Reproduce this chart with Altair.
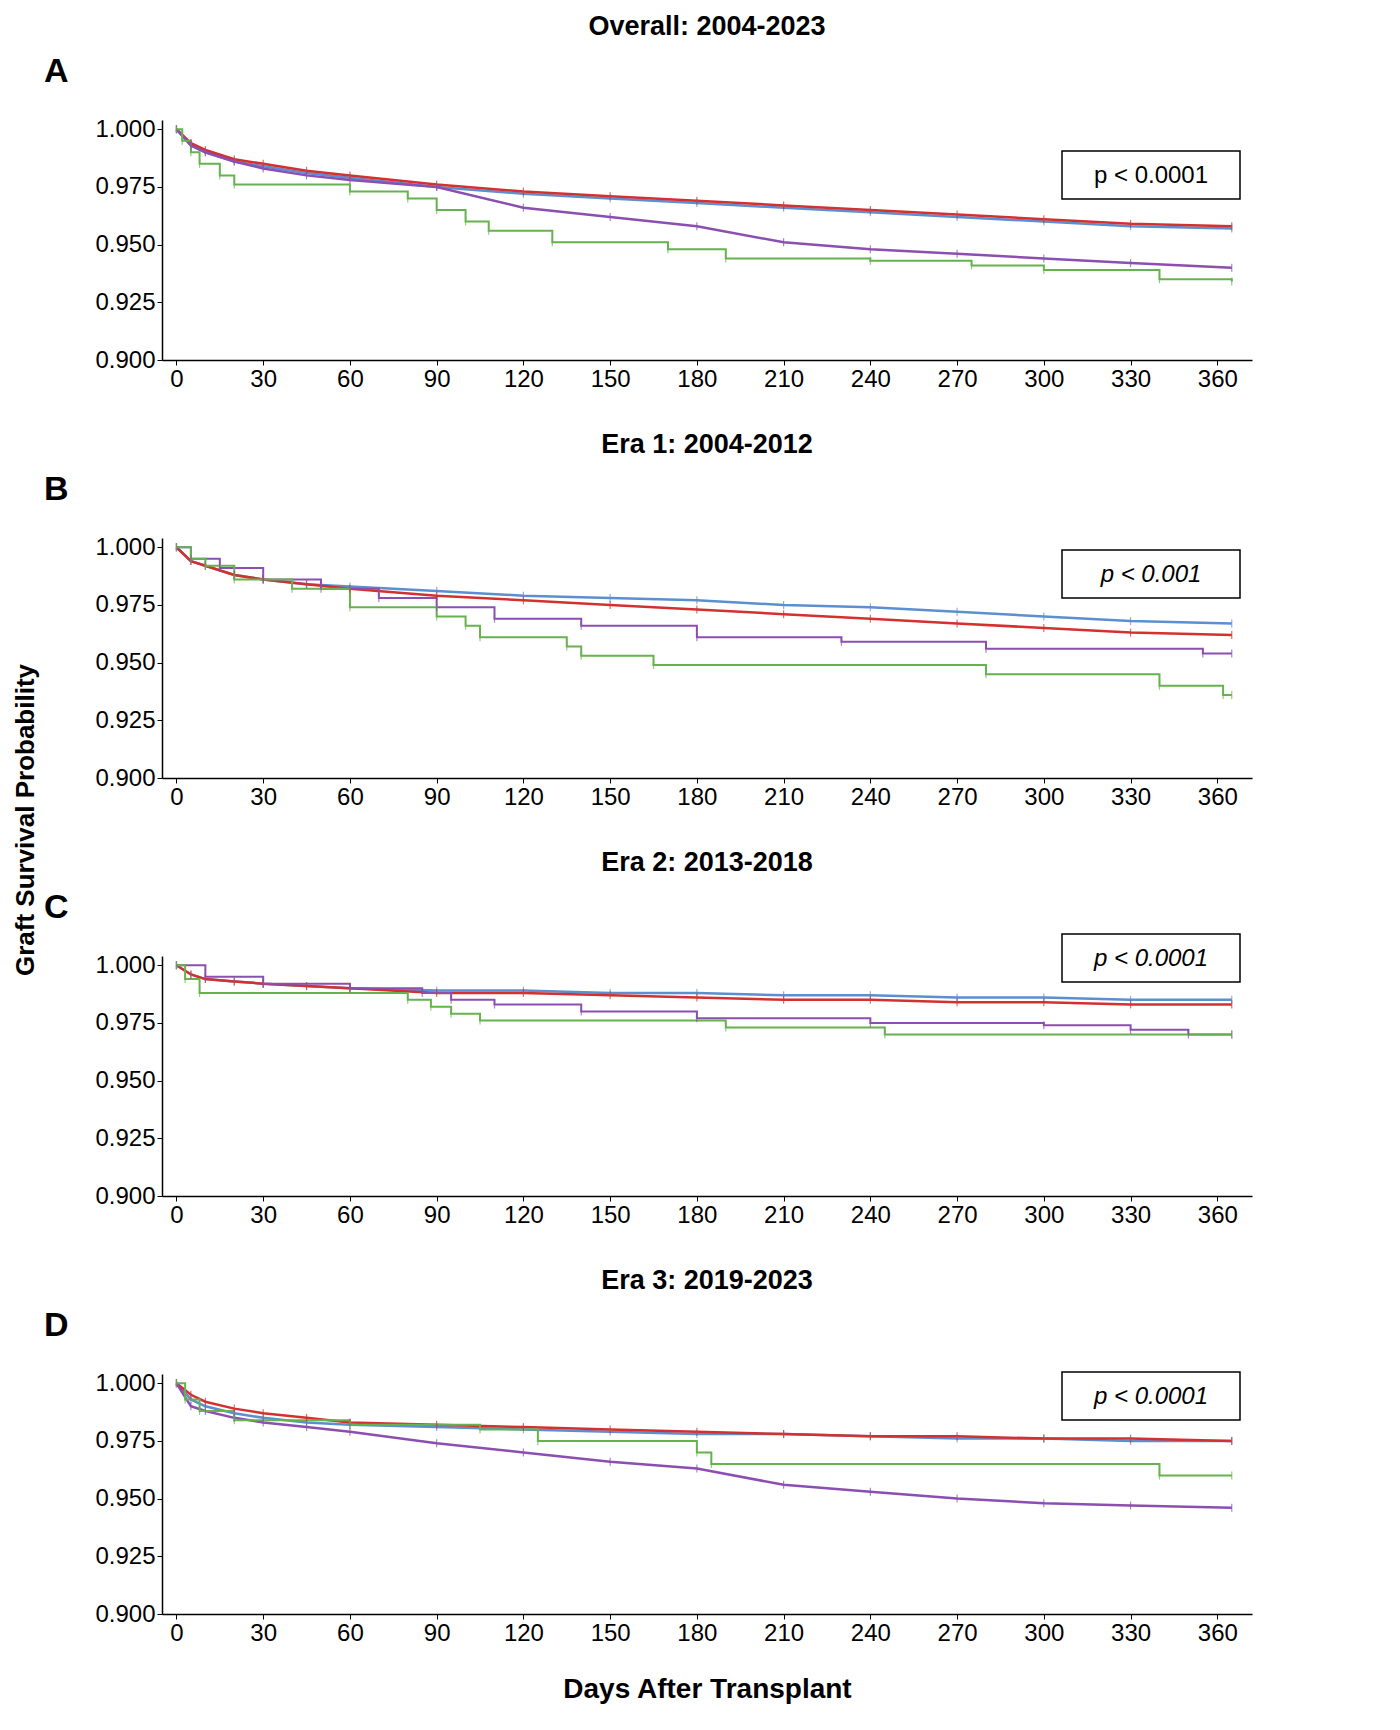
import pandas as pd
import altair as alt

SERIES = ["DBD: no ACLF & EST-ACLF-1", "DBD: EST-ACLF-2/3", "DCD: no ACLF & ACLF-1", "DCD: EST-ACLF-2/3"]
COLORS = ["#5b8fd0", "#d3302f", "#8a4fb0", "#66b24f"]

# smooth curves share these days
dbd_days = [0, 5, 10, 20, 30, 45, 60, 90, 120, 150, 180, 210, 240, 270, 300, 330, 365]

# Panel A: Overall
A_blue = [1.0, .993, .990, .986, .984, .981, .979, .975, .972, .970, .968, .966, .964, .962, .960, .958, .957]
A_red = [1.0, .994, .991, .987, .985, .982, .980, .976, .973, .971, .969, .967, .965, .963, .961, .959, .958]
A_purple = [1.0, .993, .990, .986, .983, .980, .978, .975, .966, .962, .958, .951, .948, .946, .944, .942, .940]
A_green_d = [0, 2, 5, 8, 15, 20, 60, 80, 90, 100, 108, 130, 170, 190, 240, 275, 300, 340, 365]
A_green = [1.0, .995, .990, .985, .980, .976, .973, .970, .965, .960, .956, .951, .948, .944, .943, .941, .939, .935, .934]

# Panel B: Era 1
B_blue = [1.0, .994, .992, .988, .986, .984, .983, .981, .979, .978, .977, .975, .974, .972, .970, .968, .967]
B_red = [1.0, .994, .992, .988, .986, .984, .982, .979, .977, .975, .973, .971, .969, .967, .965, .963, .962]
B_purple_d = [0, 5, 15, 30, 50, 70, 90, 110, 140, 180, 230, 280, 355, 365]
B_purple = [1.0, .995, .991, .986, .982, .978, .974, .969, .966, .961, .959, .956, .954, .954]
B_green_d = [0, 5, 10, 20, 40, 60, 90, 100, 105, 135, 140, 165, 280, 340, 362, 365]
B_green = [1.0, .995, .992, .986, .982, .974, .970, .966, .961, .957, .953, .949, .945, .940, .936, .936]

# Panel C: Era 2
C_blue = [1.0, .996, .994, .993, .992, .991, .990, .989, .989, .988, .988, .987, .987, .986, .986, .985, .985]
C_red = [1.0, .996, .994, .993, .992, .991, .990, .988, .988, .987, .986, .985, .985, .984, .984, .983, .983]
C_purple_d = [0, 10, 30, 60, 85, 95, 110, 140, 180, 240, 300, 330, 350, 365]
C_purple = [1.0, .995, .992, .990, .988, .985, .983, .980, .977, .975, .974, .972, .970, .970]
C_green_d = [0, 3, 8, 80, 88, 95, 105, 190, 245, 365]
C_green = [1.0, .994, .988, .985, .982, .979, .976, .973, .970, .970]

# Panel D: Era 3
D_blue = [1.0, .993, .990, .987, .985, .983, .982, .981, .980, .979, .978, .978, .977, .976, .976, .975, .975]
D_red = [1.0, .995, .992, .989, .987, .985, .983, .982, .981, .980, .979, .978, .977, .977, .976, .976, .975]
D_purple = [1.0, .990, .988, .985, .983, .981, .979, .974, .970, .966, .963, .956, .953, .950, .948, .947, .946]
D_green_d = [0, 3, 8, 20, 60, 105, 125, 180, 185, 340, 365]
D_green = [1.0, .993, .988, .984, .982, .980, .975, .970, .965, .960, .960]

panels = [
    ("A", "Overall: 2004-2023", "p < 0.0001", 31, [(dbd_days, A_blue), (dbd_days, A_red), (dbd_days, A_purple), (A_green_d, A_green)]),
    ("B", "Era 1: 2004-2012", "p < 0.001", 12, [(dbd_days, B_blue), (dbd_days, B_red), (B_purple_d, B_purple), (B_green_d, B_green)]),
    ("C", "Era 2: 2013-2018", "p < 0.0001", -22, [(dbd_days, C_blue), (dbd_days, C_red), (C_purple_d, C_purple), (C_green_d, C_green)]),
    ("D", "Era 3: 2019-2023", "p < 0.0001", -2, [(dbd_days, D_blue), (dbd_days, D_red), (dbd_days, D_purple), (D_green_d, D_green)]),
]

W, H = 1090, 240
color = alt.Color("series:N", scale=alt.Scale(domain=SERIES, range=COLORS),
                  legend=alt.Legend(title=None, orient="bottom", direction="horizontal",
                                    labelFontSize=24, symbolType="stroke", symbolStrokeWidth=3,
                                    symbolSize=700, columnPadding=30, labelLimit=450, offset=25))

charts = []
for i, (letter, title, ptxt, boxy, curves) in enumerate(panels):
    rows = []
    for name, (d, v) in zip(SERIES, curves):
        kind = "smooth" if d is dbd_days else "step"
        rows += [{"series": name, "day": a, "surv": b, "kind": kind} for a, b in zip(d, v)]
    df = pd.DataFrame(rows)
    last = i == len(panels) - 1
    x = alt.X("day:Q", scale=alt.Scale(domain=[-5, 372], nice=False),
              axis=alt.Axis(values=list(range(0, 361, 30)), labelFontSize=24, grid=False,
                            title="Days After Transplant" if last else None,
                            titleFontSize=28, titleFontWeight="bold", titlePadding=30))
    y = alt.Y("surv:Q", scale=alt.Scale(domain=[0.9, 1.004], nice=False),
              axis=alt.Axis(values=[0.9, 0.925, 0.95, 0.975, 1.0], format=".3f",
                            labelFontSize=24, grid=False, title=None))
    base = alt.Chart(df).encode(x=x, y=y, color=color)
    smooth = base.transform_filter("datum.kind == 'smooth'").mark_line(strokeWidth=2.5)
    steps = base.transform_filter("datum.kind == 'step'").mark_line(interpolate="step-after", strokeWidth=2)
    ticks = base.mark_tick(orient="vertical", size=8, thickness=1.2)
    let = alt.Chart(df.head(1)).mark_text(fontSize=34, fontWeight="bold", align="left").encode(
        x=alt.value(-118), y=alt.value(-48), text=alt.value(letter))
    box = alt.Chart(df.head(1)).mark_rect(fill="white", stroke="black", strokeWidth=1.5).encode(
        x=alt.value(900), x2=alt.value(1078), y=alt.value(boxy), y2=alt.value(boxy + 48))
    ptext = alt.Chart(df.head(1)).mark_text(fontSize=24, fontStyle="italic" if i > 0 else "normal").encode(
        x=alt.value(989), y=alt.value(boxy + 25), text=alt.value(ptxt))
    c = alt.layer(smooth, steps, ticks, let, box, ptext).properties(
        width=W, height=H,
        title=alt.TitleParams(title, fontSize=27, fontWeight="bold", anchor="middle", offset=14))
    charts.append(c)

ylab = alt.Chart(pd.DataFrame({"t": ["Graft Survival Probability"]})).mark_text(
    angle=270, fontSize=26, fontWeight="bold").encode(text="t:N").properties(width=20, height=1400)

chart = alt.hconcat(ylab, alt.vconcat(*charts, spacing=40), spacing=5).configure_view(
    strokeWidth=0).configure_axis(domainColor="black", tickColor="black", labelColor="black",
                                  domainWidth=1.5, labelFont="Liberation Sans")
chart.save("out.html", embed_options={"renderer": "svg", "actions": False})
